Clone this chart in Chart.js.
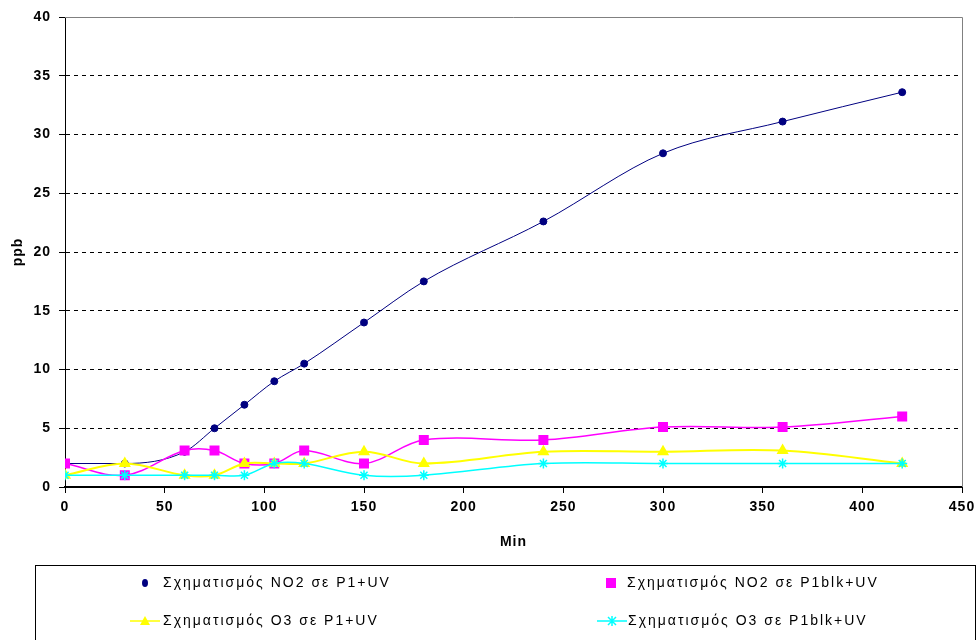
<!DOCTYPE html>
<html lang="el">
<head>
    <meta charset="UTF-8">
    <title>Σχηματισμός NO2 και O3</title>
    <script src="https://cdn.jsdelivr.net/npm/chart.js"></script>
    <style>
        body {
            margin: 0;
            background: #fff;
        }
        .chart-container {
            width: 978px;
            height: 640px;
            position: relative;
        }
    </style>
</head>
<body>
    <div class="chart-container">
        <canvas id="ppbChart"></canvas>
    </div>

    <script>
        // sampling times (min)
        const minutes = [0, 30, 60, 75, 90, 105, 120, 150, 180, 240, 300, 360, 420];

        // ppb per series
        const no2P1 = [2, 2, 3, 5, 7, 9, 10.5, 14, 17.5, 22.6, 28.4, 31.1, 33.6];
        const no2P1blk = [2, 1, 3.1, 3.1, 2, 2, 3.1, 2, 4, 4, 5.1, 5.1, 6];
        const o3P1 = [1, 2, 1, 1, 2, 2, 2, 3, 2, 3, 3, 3.1, 2];
        const o3P1blk = [1, 1, 1, 1, 1, 2, 2, 1, 1, 2, 2, 2, 2];

        const seriesNames = [
            "Σχηματισμός NO2 σε P1+UV",
            "Σχηματισμός NO2 σε P1blk+UV",
            "Σχηματισμός O3 σε P1+UV",
            "Σχηματισμός O3 σε P1blk+UV"
        ];

        const xTicks = [0, 50, 100, 150, 200, 250, 300, 350, 400, 450];
        const yTicks = [0, 5, 10, 15, 20, 25, 30, 35, 40];

        const toPoints = vals => vals.map((v, i) => ({ x: minutes[i], y: v }));

        const tickFont = { family: "'Liberation Sans', Arial, sans-serif", size: 14, weight: 'bold' };

        // marker shapes for the legend box
        function drawMarker(ctx, style, x, y, color) {
            ctx.save();
            ctx.fillStyle = color;
            ctx.strokeStyle = color;
            ctx.lineWidth = 1.5;
            ctx.beginPath();
            if (style === 'circle') {
                ctx.ellipse(x, y, 3, 4, 0, 0, Math.PI * 2);
                ctx.fill();
            } else if (style === 'rect') {
                ctx.fillRect(x - 5, y - 5, 10, 10);
            } else if (style === 'triangle') {
                ctx.moveTo(x, y - 5);
                ctx.lineTo(x + 5, y + 4);
                ctx.lineTo(x - 5, y + 4);
                ctx.closePath();
                ctx.fill();
            } else if (style === 'star') {
                ctx.moveTo(x - 4, y - 4); ctx.lineTo(x + 4, y + 4);
                ctx.moveTo(x + 4, y - 4); ctx.lineTo(x - 4, y + 4);
                ctx.moveTo(x, y - 5); ctx.lineTo(x, y + 5);
                ctx.stroke();
            }
            ctx.restore();
        }

        // wider text spacing for the axis numbers
        const spacing = {
            id: 'spacing',
            beforeLayout(chart) { chart.ctx.letterSpacing = '1px'; },
            beforeDraw(chart) { chart.ctx.letterSpacing = '1px'; }
        };

        const frameAndLegend = {
            id: 'frameAndLegend',
            afterDraw(chart) {
                const { ctx, chartArea } = chart;
                ctx.save();

                // grey top and right edges of the plot area
                ctx.strokeStyle = '#808080';
                ctx.lineWidth = 1;
                ctx.beginPath();
                ctx.moveTo(chartArea.left, chartArea.top + 0.5);
                ctx.lineTo(chartArea.right + 0.5, chartArea.top + 0.5);
                ctx.lineTo(chartArea.right + 0.5, chartArea.bottom);
                ctx.stroke();

                // legend box, two columns
                ctx.strokeStyle = '#000';
                ctx.strokeRect(35.5, 565.5, 940, 90);

                const slots = [
                    { mx: 145, tx: 163, y: 583, line: false },
                    { mx: 611, tx: 627, y: 583, line: false },
                    { mx: 145, tx: 163, y: 621, line: true },
                    { mx: 612, tx: 628, y: 621, line: true }
                ];
                ctx.font = "14px 'Liberation Sans', Arial, sans-serif";
                ctx.letterSpacing = '2px';
                ctx.textBaseline = 'middle';
                chart.data.datasets.forEach((ds, i) => {
                    const s = slots[i];
                    if (s.line) {
                        ctx.strokeStyle = ds.borderColor;
                        ctx.lineWidth = 1.5;
                        ctx.beginPath();
                        ctx.moveTo(s.mx - 15, s.y);
                        ctx.lineTo(s.mx + 15, s.y);
                        ctx.stroke();
                    }
                    drawMarker(ctx, ds.pointStyle, s.mx, s.y, ds.pointBackgroundColor);
                    ctx.fillStyle = '#000';
                    ctx.fillText(ds.label, s.tx, s.y);
                });
                ctx.restore();
            }
        };

        new Chart(document.getElementById('ppbChart'), {
            type: 'line',
            data: {
                datasets: [
                    {
                        label: seriesNames[0],
                        data: toPoints(no2P1),
                        borderColor: '#000080',
                        pointBackgroundColor: '#000080',
                        pointBorderColor: '#000080',
                        pointStyle: 'circle',
                        pointRadius: 3.5,
                        borderWidth: 1,
                        cubicInterpolationMode: 'monotone',
                        order: 3
                    },
                    {
                        label: seriesNames[1],
                        data: toPoints(no2P1blk),
                        borderColor: '#FF00FF',
                        pointBackgroundColor: '#FF00FF',
                        pointBorderColor: '#FF00FF',
                        pointStyle: 'rect',
                        pointRadius: 6,
                        borderWidth: 1.5,
                        order: 2
                    },
                    {
                        label: seriesNames[2],
                        data: toPoints(o3P1),
                        borderColor: '#FFFF00',
                        pointBackgroundColor: '#FFFF00',
                        pointBorderColor: '#FFFF00',
                        pointStyle: 'triangle',
                        pointRadius: 5,
                        borderWidth: 2,
                        order: 1
                    },
                    {
                        label: seriesNames[3],
                        data: toPoints(o3P1blk),
                        borderColor: '#00FFFF',
                        pointBackgroundColor: '#00FFFF',
                        pointBorderColor: '#00FFFF',
                        pointStyle: 'star',
                        pointRadius: 5,
                        pointBorderWidth: 1.5,
                        borderWidth: 1.5,
                        order: 0
                    }
                ]
            },
            options: {
                responsive: true,
                maintainAspectRatio: false,
                animation: false,
                layout: {
                    padding: { left: 0, top: 17, right: 16, bottom: 85 }
                },
                elements: {
                    line: { tension: 0.35, fill: false }
                },
                plugins: {
                    legend: { display: false },
                    tooltip: { enabled: false }
                },
                scales: {
                    x: {
                        type: 'linear',
                        min: 0,
                        max: 450,
                        afterBuildTicks: scale => {
                            scale.ticks = xTicks.map(v => ({ value: v }));
                        },
                        afterFit: scale => {
                            scale.height = 68;
                            scale.paddingLeft = 0;
                            scale.paddingRight = 0;
                        },
                        ticks: { color: '#000', font: tickFont, padding: 6, maxRotation: 0 },
                        grid: {
                            drawOnChartArea: false,
                            color: '#000',
                            tickColor: '#000',
                            tickLength: 6
                        },
                        border: { color: '#000', width: 2 },
                        title: {
                            display: true,
                            text: 'Min',
                            color: '#000',
                            font: tickFont,
                            padding: { top: 0, bottom: 4 }
                        }
                    },
                    y: {
                        min: 0,
                        max: 40,
                        afterBuildTicks: scale => {
                            scale.ticks = yTicks.map(v => ({ value: v }));
                        },
                        afterFit: scale => { scale.width = 65; },
                        ticks: { color: '#000', font: tickFont, padding: 8 },
                        grid: {
                            color: ctx => (ctx.tick && ctx.tick.value > 0 && ctx.tick.value < 40) ? '#000' : 'rgba(0,0,0,0)',
                            tickColor: '#000',
                            tickLength: 6,
                            lineWidth: 1
                        },
                        border: { color: '#000', width: 1, dash: [4, 4] },
                        title: {
                            display: true,
                            text: 'ppb',
                            color: '#000',
                            font: tickFont,
                            padding: { top: 10, bottom: 0 }
                        }
                    }
                }
            },
            plugins: [spacing, frameAndLegend]
        });
    </script>
</body>
</html>
